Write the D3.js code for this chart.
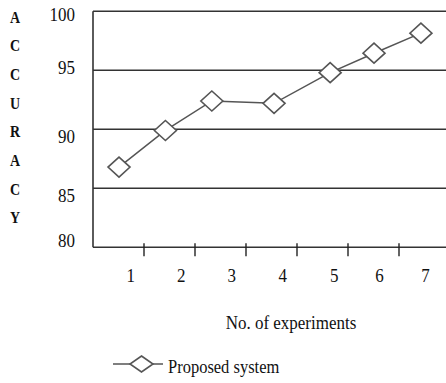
<!DOCTYPE html>
<html>
<head>
<meta charset="utf-8">
<script src="https://cdn.jsdelivr.net/npm/d3@7"></script>
<style>
  html, body { margin: 0; padding: 0; background: #fff; }
  svg { display: block; }
  text { font-family: "Liberation Serif", "Times New Roman", serif; fill: #111; }
</style>
</head>
<body>
<svg id="chart" width="446" height="383"></svg>
<script>
// ---- data ----
const experiments = ["1", "2", "3", "4", "5", "6", "7"];
const experimentX = [0.51, 1.42, 2.33, 3.55, 4.65, 5.51, 6.43];   // where each point sits along the x axis
const accuracy = [86.8, 89.9, 92.4, 92.2, 94.8, 96.45, 98.15];
const xTickValues = [1, 2, 3, 4, 5, 6];
const xLabelAt = [0.74, 1.73, 2.72, 3.72, 4.73, 5.62, 6.52];
const yTickValues = [80, 85, 90, 95, 100];
const yLabelAt = [80.6, 84.4, 89.4, 95.2, 99.7];
const yAxisTitle = "ACCURACY";
const xAxisTitle = "No. of experiments";
const seriesName = "Proposed system";

// ---- layout ----
const svg = d3.select("#chart");
const x = d3.scaleLinear().domain([0, 7]).range([93, 450]);
const y = d3.scaleLinear().domain([80, 100]).range([247.3, 11.3]);

const lineColor = "#333";
const markColor = "#555";
const stretch = 1.15;   // text in the reference is slightly tall

// text helper: places text with baseline at (tx, ty), vertically stretched
function place(sel, fx, fy) {
  return sel.attr("transform", (d, i) => `translate(${fx(d, i)},${fy(d, i)}) scale(1,${stretch})`);
}

// gridlines (85, 90, 95) and top border (100)
svg.append("g").selectAll("line")
  .data(yTickValues.filter(v => v > 80))
  .join("line")
  .attr("x1", x(0)).attr("x2", 446)
  .attr("y1", d => y(d)).attr("y2", d => y(d))
  .attr("stroke", lineColor).attr("stroke-width", 1.6);

// left axis
svg.append("line")
  .attr("x1", x(0)).attr("x2", x(0))
  .attr("y1", y(100)).attr("y2", y(80))
  .attr("stroke", lineColor).attr("stroke-width", 1.6);

// bottom axis
svg.append("line")
  .attr("x1", x(0)).attr("x2", 446)
  .attr("y1", y(80)).attr("y2", y(80))
  .attr("stroke", lineColor).attr("stroke-width", 1.6);

// x ticks
svg.append("g").selectAll("line")
  .data(xTickValues)
  .join("line")
  .attr("x1", d => x(d)).attr("x2", d => x(d))
  .attr("y1", y(80) - 4).attr("y2", y(80) + 9)
  .attr("stroke", "#222").attr("stroke-width", 1.4);

// x tick labels
place(svg.append("g").selectAll("text")
  .data(experiments)
  .join("text"), (d, i) => x(xLabelAt[i]), () => 282)
  .attr("text-anchor", "middle")
  .attr("font-size", 17)
  .text(d => d);

// y tick labels
place(svg.append("g").selectAll("text")
  .data(yTickValues)
  .join("text"), () => 75, (d, i) => y(yLabelAt[i]) + 6.5)
  .attr("text-anchor", "end")
  .attr("font-size", 17)
  .text(d => d);

// vertical y axis title (stacked letters)
place(svg.append("g").selectAll("text")
  .data(yAxisTitle.split(""))
  .join("text"), () => 15, (d, i) => 22.5 + i * 28.7)
  .attr("text-anchor", "middle")
  .attr("font-size", 14)
  .attr("font-weight", "bold")
  .text(d => d);

// x axis title
place(svg.append("text").datum(xAxisTitle), () => 291, () => 329)
  .attr("text-anchor", "middle")
  .attr("font-size", 17)
  .text(d => d);

// series line
const pts = accuracy.map((v, i) => [x(experimentX[i]), y(v)]);
svg.append("path")
  .attr("d", d3.line()(pts))
  .attr("fill", "none")
  .attr("stroke", markColor)
  .attr("stroke-width", 1.5);

const diamond = (cx, cy, hw, hh) =>
  `M${cx},${cy - hh}L${cx + hw},${cy}L${cx},${cy + hh}L${cx - hw},${cy}Z`;

svg.append("g").selectAll("path")
  .data(pts)
  .join("path")
  .attr("d", d => diamond(d[0], d[1], 11, 10))
  .attr("fill", "#fff")
  .attr("stroke", markColor)
  .attr("stroke-width", 1.6);

// legend
svg.append("line")
  .attr("x1", 113).attr("x2", 163)
  .attr("y1", 364).attr("y2", 364)
  .attr("stroke", markColor).attr("stroke-width", 1.5);
svg.append("path")
  .attr("d", diamond(141.5, 364, 11.5, 8))
  .attr("fill", "#fff")
  .attr("stroke", markColor)
  .attr("stroke-width", 1.6);
place(svg.append("text").datum(seriesName), () => 168, () => 373)
  .attr("font-size", 16.5)
  .text(d => d);
</script>
</body>
</html>
